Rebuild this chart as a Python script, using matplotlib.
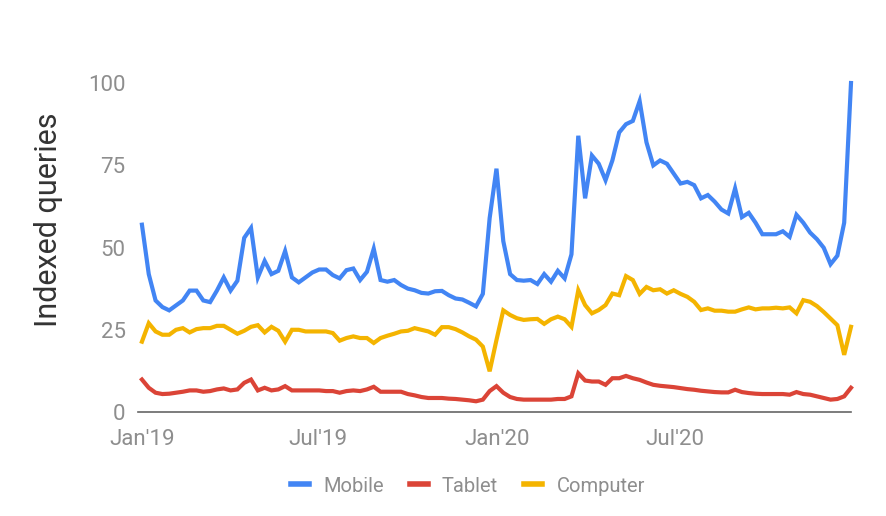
import matplotlib
matplotlib.use('Agg')
import matplotlib.pyplot as plt
import pandas as pd

# weekly indexed queries, Jan 2019 - Dec 2020
mobile = [57, 42, 34, 32, 31, 32.5, 34, 37, 37, 34,
          33.5, 37, 41, 37, 40, 53, 56, 41, 46, 42,
          43, 49, 41, 39.5, 41, 42.5, 43.4, 43.4, 41.7, 40.7,
          43.2, 43.7, 40.2, 42.7, 49.7, 40.2, 39.7, 40.2, 38.7, 37.6,
          37.1, 36.3, 36.1, 36.8, 36.9, 35.6, 34.6, 34.3, 33.3, 32.2,
          36, 59, 74, 52, 42, 40.2, 40, 40.2, 39, 42,
          39.7, 43, 40.7, 48, 84, 65, 78, 75.5, 70.5, 76.5,
          85, 87.5, 88.5, 94.5, 82, 75, 76.5, 75.5, 72.5, 69.5,
          70, 69, 65, 66, 64, 61.6, 60.4, 68, 59.3, 60.6,
          57.6, 54.1, 54.1, 54.1, 55, 53.3, 60, 57.6, 54.6, 52.6,
          50, 45, 47.6, 57.6, 100]
tablet = [10, 7.5, 6, 5.6, 5.7, 6, 6.3, 6.7, 6.7, 6.3,
          6.5, 7, 7.3, 6.7, 7, 9, 10, 6.7, 7.5, 6.7,
          7, 8, 6.7, 6.7, 6.7, 6.7, 6.7, 6.5, 6.5, 6,
          6.5, 6.7, 6.5, 7, 7.8, 6.3, 6.3, 6.3, 6.3, 5.6,
          5.2, 4.7, 4.4, 4.4, 4.4, 4.2, 4.1, 3.9, 3.7, 3.4,
          3.9, 6.5, 8, 6, 4.7, 4.1, 3.9, 3.9, 3.9, 3.9,
          3.9, 4.1, 4.1, 4.9, 11.9, 9.7, 9.4, 9.4, 8.4, 10.4,
          10.4, 11.1, 10.4, 9.9, 9.1, 8.4, 8.1, 7.9, 7.7, 7.4,
          7.1, 6.9, 6.6, 6.4, 6.2, 6.1, 6.1, 6.9, 6.2, 5.9,
          5.7, 5.6, 5.6, 5.6, 5.6, 5.4, 6.2, 5.6, 5.4, 4.9,
          4.4, 3.9, 4.1, 4.9, 7.5]
computer = [21.5, 27.1, 24.6, 23.6, 23.6, 25.1, 25.6, 24.3, 25.3, 25.6,
            25.6, 26.3, 26.3, 25.1, 23.9, 24.8, 26, 26.5, 24.3, 26,
            24.8, 21.5, 25.1, 25.1, 24.6, 24.6, 24.6, 24.6, 24.1, 21.8,
            22.6, 23.1, 22.6, 22.6, 21.1, 22.6, 23.3, 23.9, 24.6, 24.8,
            25.6, 25.1, 24.6, 23.6, 25.9, 25.9, 25.3, 24.3, 23.1, 22.1,
            20, 12.5, 22, 31, 29.6, 28.6, 28.1, 28.3, 28.4, 26.9,
            28.3, 29.1, 28.3, 26, 37.1, 32.6, 30.1, 31.1, 32.6, 36.1,
            35.6, 41.4, 40.2, 36, 38.1, 37.1, 37.4, 36.1, 37.1, 36,
            35.1, 33.6, 31.1, 31.6, 30.9, 30.9, 30.6, 30.6, 31.3, 31.9,
            31.3, 31.6, 31.6, 31.8, 31.6, 31.9, 30.1, 34.1, 33.6, 32.3,
            30.5, 28.5, 26.5, 17.5, 26]

series_names = ['Mobile', 'Tablet', 'Computer']
colors = ['#4285F4', '#DB4437', '#F4B400']
tick_dates = ['2019-01-01', '2019-07-01', '2020-01-01', '2020-07-01']
tick_labels = ["Jan'19", "Jul'19", "Jan'20", "Jul'20"]

dates = pd.date_range('2019-01-01', periods=len(mobile), freq='7D')
df = pd.DataFrame({'Mobile': mobile, 'Tablet': tablet, 'Computer': computer}, index=dates)

plt.rcParams['font.family'] = ['Roboto', 'DejaVu Sans']

fig = plt.figure(figsize=(8.86, 5.16), dpi=100)
ax = fig.add_axes([0.1558, 0.2006, 0.8047, 0.6385])

lines = []
for name, c in zip(series_names, colors):
    ln, = ax.plot(df.index, df[name], color=c, lw=3, clip_on=False,
                  solid_joinstyle='miter', label=name)
    lines.append(ln)

ax.set_ylim(0, 100)
ax.set_xlim(dates[0] - pd.Timedelta(days=4), dates[-1])
ax.set_yticks([0, 25, 50, 75, 100])
ax.set_xticks(pd.to_datetime(tick_dates))
ax.set_xticklabels(tick_labels)

grey = '#8e8e8e'
ax.tick_params(axis='both', length=0, labelsize=16, labelcolor=grey)
ax.tick_params(axis='y', pad=9)
ax.tick_params(axis='x', pad=12)

for s in ['top', 'right', 'left']:
    ax.spines[s].set_visible(False)
ax.spines['bottom'].set_color('#666666')
ax.spines['bottom'].set_linewidth(1.2)

# label sits a bit above the axes middle in the original
ax.set_ylabel('Indexed queries', fontsize=22, color='#333333')
ax.yaxis.set_label_coords(-0.105, 0.584)

leg = fig.legend(handles=lines, loc='center', bbox_to_anchor=(0.528, 1 - 486 / 516),
                 ncol=3, frameon=False, fontsize=14.5, handlelength=0.9,
                 handletextpad=0.7, columnspacing=1.3)
for t in leg.get_texts():
    t.set_color(grey)
for h in leg.get_lines():
    h.set_linewidth(4)

fig.savefig('out.png', dpi=100)
